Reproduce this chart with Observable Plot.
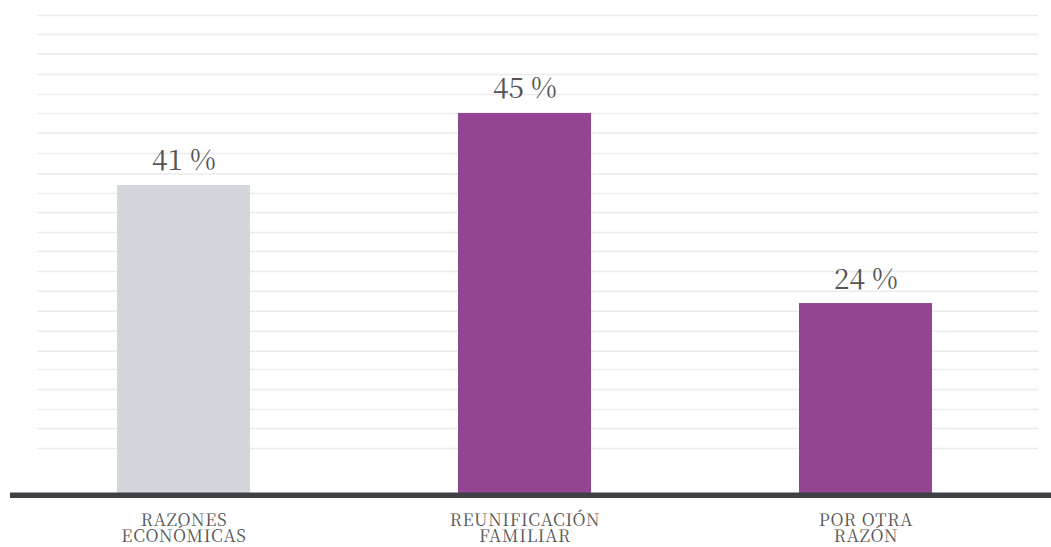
<!DOCTYPE html>
<html>
<head>
<meta charset="utf-8">
<script src="https://cdn.jsdelivr.net/npm/d3@7"></script>
<script src="https://cdn.jsdelivr.net/npm/@observablehq/plot@0.6"></script>
<style>
  html, body { margin: 0; padding: 0; background: #ffffff; }
  #chart svg { display: block; }
  #chart svg, #chart svg text { font-family: 'Noto Serif CJK SC', 'Liberation Serif', serif !important; }
  #chart svg g[aria-label="x-axis tick label"] text { letter-spacing: 0.7px; }
</style>
</head>
<body>
<div id="chart"></div>
<script>
// Categories (x-axis labels, two lines each)
const categories = ["RAZONES\nECONÓMICAS", "REUNIFICACIÓN\nFAMILIAR", "POR OTRA\nRAZÓN"];
// Printed shares (percent)
const shares = [41, 45, 24];
// Drawn bar heights, in gridline steps above the baseline
const barHeights = [15.74, 19.40, 9.74];
// Fill for each bar
const barColors = ["#d3d6db", "#934592", "#934592"];
// Background gridline levels (same units as barHeights)
const gridLevels = [2.38, 3.39, 4.36, 5.37, 6.39, 7.32, 8.33, 9.35, 10.37, 11.37, 12.39, 13.35, 14.37,
                    15.33, 16.33, 17.37, 18.41, 19.40, 20.36, 21.38, 22.42, 23.41, 24.38];

const rows = categories.map((c, i) => ({
  category: c,
  share: shares[i],
  height: barHeights[i],
  color: barColors[i],
  label: `${shares[i]} %`
}));

const serif = "'Noto Serif CJK SC', 'Liberation Serif', serif";

const chart = Plot.plot({
  width: 1051,
  height: 547,
  marginLeft: 10,
  marginRight: 0,
  marginTop: 2.75,
  marginBottom: 52.25,
  style: { background: "#ffffff", fontFamily: serif },
  x: {
    type: "band",
    domain: categories,
    paddingInner: 0.61,
    paddingOuter: 0.33,
    align: 0.474,
    label: null
  },
  y: { domain: [0, 25], axis: null },
  marks: [
    Plot.ruleY(gridLevels, { stroke: "#ebebeb", strokeWidth: 1.5, insetLeft: 27, insetRight: 13 }),
    Plot.barY(rows, { x: "category", y: "height", fill: "color" }),
    Plot.ruleY([0], { stroke: "#3f4044", strokeWidth: 5.5 }),
    Plot.text(rows, {
      x: "category", y: "height", text: "label",
      lineAnchor: "bottom", dy: -15,
      fontSize: 28, fill: "#555555", fontFamily: serif
    }),
    Plot.axisX({
      tickSize: 0, tickPadding: 19,
      fontSize: 17, lineHeight: 0.96, fontFamily: serif,
      color: "#555555", label: null
    })
  ]
});

document.getElementById("chart").appendChild(chart);
</script>
</body>
</html>
